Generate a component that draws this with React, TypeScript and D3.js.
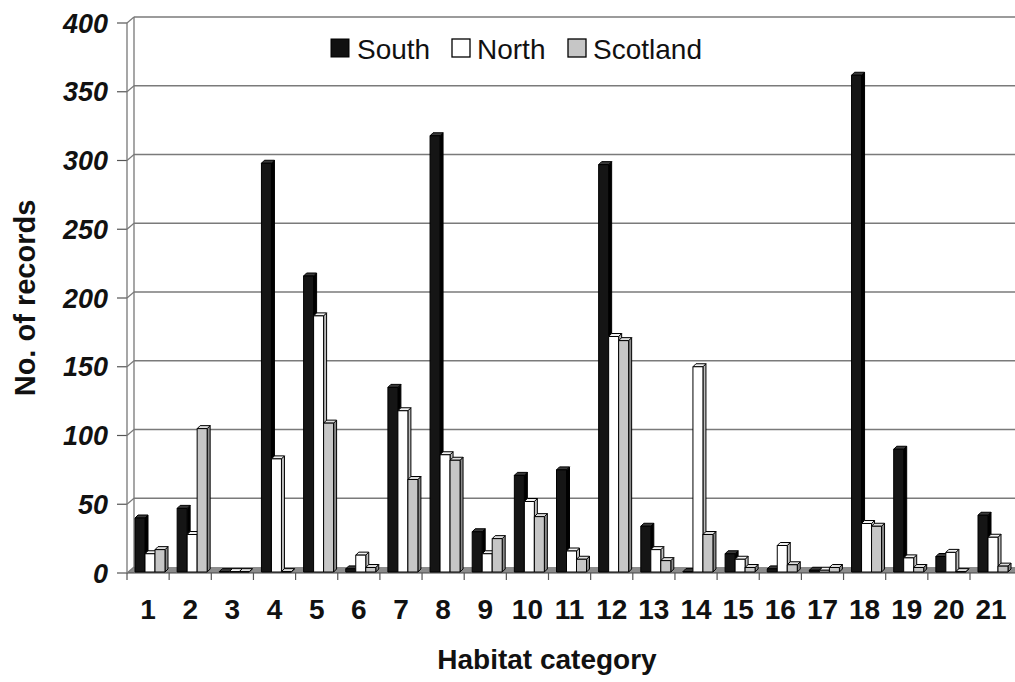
import React from "react";
import * as d3 from "d3";

const categories = ["1","2","3","4","5","6","7","8","9","10","11","12","13","14","15","16","17","18","19","20","21"];
const seriesNames = ["South", "North", "Scotland"];
const south = [40, 47, 1, 298, 216, 3, 135, 318, 30, 71, 75, 297, 34, 1, 14, 3, 2, 362, 90, 12, 42];
const north = [14, 28, 1, 83, 187, 13, 118, 86, 14, 52, 16, 172, 17, 150, 10, 20, 2, 36, 11, 15, 26];
const scotland = [17, 105, 1, 1, 109, 4, 68, 82, 25, 41, 10, 169, 9, 28, 4, 6, 4, 34, 4, 1, 5];
const yTicks = [0, 50, 100, 150, 200, 250, 300, 350, 400];

const W = 1015;
const H = 682;
const FONT = "'Liberation Sans', Arial, Helvetica, sans-serif";

// 3D wall offset and bar depth
const WALL_DX = 7;
const WALL_DY = -6;
const BAR_D = 3;

const styles = [
  { front: "#151515", side: "#000000", top: "#3a3a3a" },
  { front: "#ffffff", side: "#bdbdbd", top: "#f2f2f2" },
  { front: "#c6c6c6", side: "#8a8a8a", top: "#dedede" },
];

export default function App() {
  const plotLeft = 127;
  const band = 42.15;
  const x = d3
    .scaleBand<string>()
    .domain(categories)
    .range([plotLeft, plotLeft + band * categories.length])
    .paddingInner(0)
    .paddingOuter(0);
  const inner = d3.scaleBand<string>().domain(seriesNames).range([8, 38]).padding(0);
  const y = d3.scaleLinear().domain([0, 400]).range([573, 23]);

  const values = [south, north, scotland];
  const barBottom = y(0) - 1;
  const rightEdge = W;

  return (
    <svg
      width={W}
      height={H}
      style={{ position: "absolute", left: 0, top: 0, background: "#fff" }}
      fontFamily={FONT}
    >
      <rect x={0} y={0} width={W} height={H} fill="#fff" />

      {/* floor */}
      <polygon
        points={`${plotLeft},${y(0)} ${plotLeft + WALL_DX},${y(0) + WALL_DY} ${rightEdge},${y(0) + WALL_DY} ${rightEdge},${y(0)}`}
        fill="#8c8c8c"
      />
      <line x1={plotLeft} x2={rightEdge} y1={y(0)} y2={y(0)} stroke="#444" strokeWidth={1.2} />

      {/* back wall gridlines and side-wall connectors */}
      {yTicks.map((t) => (
        <g key={t}>
          {t > 0 && (
            <line
              x1={plotLeft + WALL_DX}
              x2={rightEdge}
              y1={y(t) + WALL_DY}
              y2={y(t) + WALL_DY}
              stroke="#7a7a7a"
              strokeWidth={1.4}
            />
          )}
          <line
            x1={plotLeft}
            y1={y(t)}
            x2={plotLeft + WALL_DX}
            y2={y(t) + WALL_DY}
            stroke="#7a7a7a"
            strokeWidth={1.2}
          />
          <line x1={117} x2={plotLeft} y1={y(t)} y2={y(t)} stroke="#555" strokeWidth={1.2} />
          <text
            x={108}
            y={y(t) + 9.5}
            textAnchor="end"
            fontSize={27}
            fontWeight="bold"
            fontStyle="italic"
            fill="#111"
          >
            {t}
          </text>
        </g>
      ))}

      {/* side wall edges */}
      <line x1={plotLeft} x2={plotLeft} y1={y(400)} y2={y(0)} stroke="#777" strokeWidth={1.3} />
      <line
        x1={plotLeft + WALL_DX}
        x2={plotLeft + WALL_DX}
        y1={y(400) + WALL_DY}
        y2={y(0) + WALL_DY}
        stroke="#777"
        strokeWidth={1.3}
      />

      {/* bars */}
      {categories.map((c, i) => (
        <g key={c}>
          {seriesNames.map((s, si) => {
            const v = values[si][i];
            const bx = (x(c) as number) + (inner(s) as number);
            const bw = inner.bandwidth();
            const top = y(v);
            const st = styles[si];
            const d = BAR_D;
            return (
              <g key={s} stroke="#000" strokeWidth={1} strokeLinejoin="round">
                <polygon
                  points={`${bx + bw},${barBottom} ${bx + bw + d},${barBottom - d} ${bx + bw + d},${top - d} ${bx + bw},${top}`}
                  fill={st.side}
                />
                <polygon
                  points={`${bx},${top} ${bx + d},${top - d} ${bx + bw + d},${top - d} ${bx + bw},${top}`}
                  fill={st.top}
                />
                <rect x={bx} y={top} width={bw} height={Math.max(0, barBottom - top)} fill={st.front} />
              </g>
            );
          })}
        </g>
      ))}

      {/* category axis ticks and labels */}
      {categories.map((c) => (
        <line
          key={`t${c}`}
          x1={x(c) as number}
          x2={x(c) as number}
          y1={y(0)}
          y2={y(0) + 7}
          stroke="#555"
          strokeWidth={1.2}
        />
      ))}
      {categories.map((c) => (
        <text
          key={`l${c}`}
          x={(x(c) as number) + x.bandwidth() / 2}
          y={619}
          textAnchor="middle"
          fontSize={28}
          fontWeight="bold"
          fill="#111"
        >
          {c}
        </text>
      ))}

      {/* axis titles */}
      <text x={547} y={669} textAnchor="middle" fontSize={28} fontWeight="bold" fill="#111">
        Habitat category
      </text>
      <text
        transform="translate(35,298) rotate(-90)"
        textAnchor="middle"
        fontSize={29}
        fontWeight="bold"
        fill="#111"
      >
        No. of records
      </text>

      {/* legend */}
      <g>
        <rect x={331} y={39} width={18} height={18} fill="#111" stroke="#000" />
        <text x={357} y={59} fontSize={28} fill="#111">South</text>
        <rect x={452} y={39} width={18} height={18} fill="#fff" stroke="#000" strokeWidth={1.3} />
        <text x={477} y={59} fontSize={28} fill="#111">North</text>
        <rect x={568} y={39} width={18} height={18} fill="#c6c6c6" stroke="#000" strokeWidth={1.3} />
        <text x={593} y={59} fontSize={28} fill="#111">Scotland</text>
      </g>
    </svg>
  );
}
